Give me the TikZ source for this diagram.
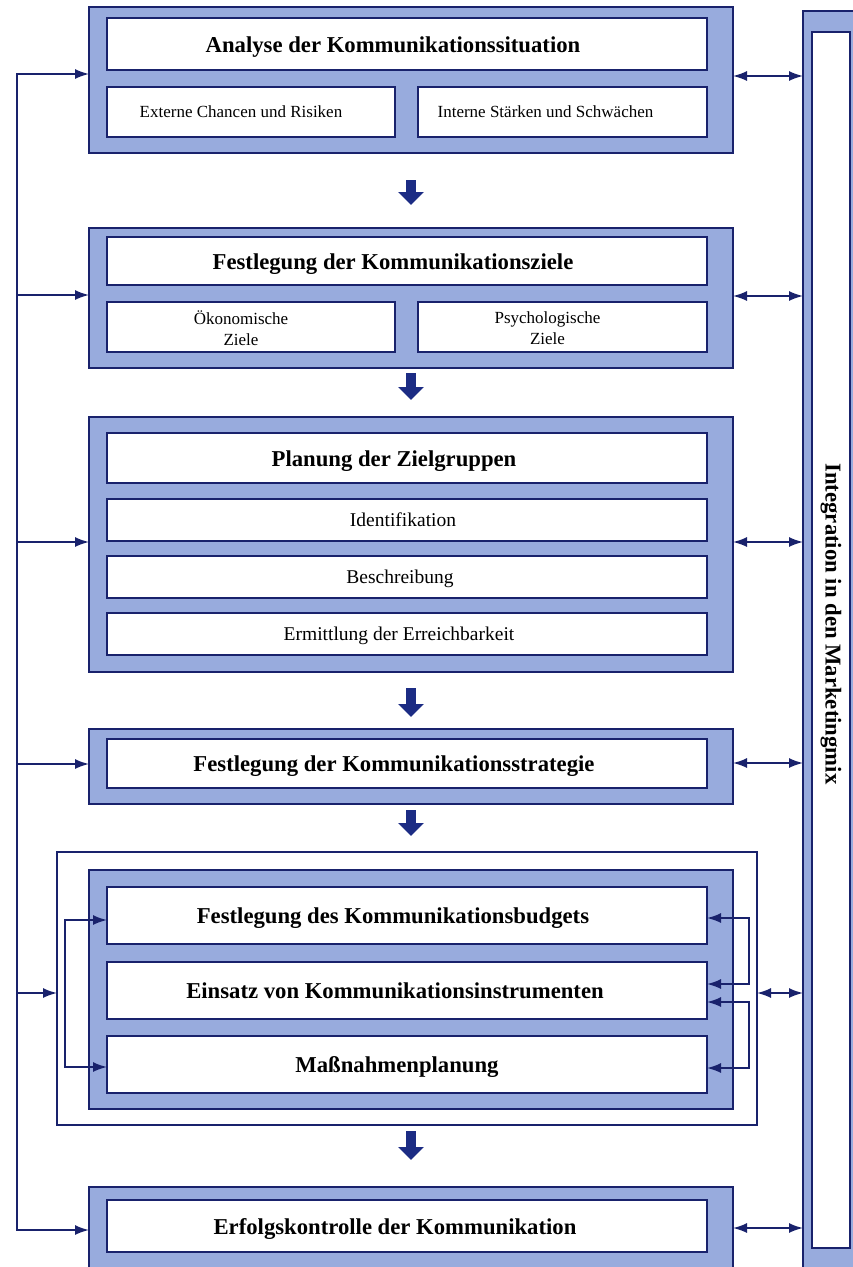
\documentclass[tikz,border=0pt]{standalone}
\usepackage{fontspec}
\setmainfont{Liberation Serif}
\usetikzlibrary{arrows.meta,calc}
\definecolor{frameblue}{RGB}{152,171,221}
\definecolor{navy}{RGB}{25,34,108}
\definecolor{arrowblue}{RGB}{28,44,132}
\begin{document}
\begin{tikzpicture}[x=1pt,y=-1pt,
  frame/.style={draw=navy,line width=1.8pt,fill=frameblue,inner sep=0pt,outer sep=0pt,anchor=north west},
  inbox/.style={draw=navy,line width=2.4pt,fill=white,inner sep=0pt,outer sep=0pt,anchor=north west},
  loopbox/.style={draw=navy,line width=1.7pt,inner sep=0pt,outer sep=0pt,anchor=north west},
  title/.style={font=\fontsize{22.7}{26}\selectfont\bfseries,inner sep=0pt,anchor=base},
  sublabel/.style={font=\fontsize{17}{21}\selectfont,inner sep=0pt,align=center},
  sublabelone/.style={font=\fontsize{17}{21}\selectfont,inner sep=0pt,anchor=base},
  grouplabel/.style={font=\fontsize{19.5}{22}\selectfont,inner sep=0pt,anchor=base},
  fb/.style={draw=navy,line width=1.7pt,-{Latex[length=14pt,width=10pt]}},
  dbl/.style={draw=navy,line width=1.7pt,{Latex[length=14pt,width=10pt]}-{Latex[length=14pt,width=10pt]}},
  down/.style={draw=arrowblue,line width=10pt,-{Triangle[length=13pt,width=25pt]}},
]
\useasboundingbox (0,0) rectangle (853,1267);
\fill[white] (0,0) rectangle (853,1267);
\clip (0,0) rectangle (853,1267);

% Integration column
\node[frame,minimum width=70pt,minimum height=1290pt] (C) at (803,11) {};
\node[inbox,line width=1.8pt,minimum width=38pt,minimum height=1216pt] (Ci) at (812,32) {};
\node[font=\fontsize{22.7}{26}\selectfont\bfseries,inner sep=0pt,rotate=-90] (Ct) at ([yshift=16pt]Ci.center) {Integration in den Marketingmix};

% Box 1
\node[frame,minimum width=644pt,minimum height=146pt] (F1) at (89,7) {};
\node[inbox,minimum width=600pt,minimum height=52pt] (I1) at (107,18) {};
\node[inbox,minimum width=288pt,minimum height=50pt] (I1a) at (107,87) {};
\node[inbox,minimum width=289pt,minimum height=50pt] (I1b) at (418,87) {};
\node[title] (T1) at ([xshift=-14pt,yshift=-8pt]I1.center) {Analyse der Kommunikationssituation};
\node[sublabelone] (T1a) at ([xshift=-10pt,yshift=-5.5pt]I1a.center) {Externe Chancen und Risiken};
\node[sublabelone] (T1b) at ([xshift=-17pt,yshift=-5.5pt]I1b.center) {Interne Stärken und Schwächen};

% Box 2
\node[frame,minimum width=644pt,minimum height=140pt] (F2) at (89,228) {};
\node[inbox,minimum width=600pt,minimum height=48pt] (I2) at (107,237) {};
\node[inbox,minimum width=288pt,minimum height=50pt] (I2a) at (107,302) {};
\node[inbox,minimum width=289pt,minimum height=50pt] (I2b) at (418,302) {};
\node[title] (T2) at ([xshift=-14pt,yshift=-8pt]I2.center) {Festlegung der Kommunikationsziele};
\node[sublabel] (T2a) at ([xshift=-10pt,yshift=-1pt]I2a.center) {Ökonomische\\Ziele};
\node[sublabel] (T2b) at ([xshift=-15pt,yshift=-1pt]I2b.center) {Psychologische\\Ziele};

% Box 3
\node[frame,minimum width=644pt,minimum height=255pt] (F3) at (89,417) {};
\node[inbox,minimum width=600pt,minimum height=50pt] (I3) at (107,433) {};
\node[inbox,minimum width=600pt,minimum height=42pt] (I3a) at (107,499) {};
\node[inbox,minimum width=600pt,minimum height=42pt] (I3b) at (107,556) {};
\node[inbox,minimum width=600pt,minimum height=42pt] (I3c) at (107,613) {};
\node[title] (T3) at ([xshift=-13pt,yshift=-8pt]I3.center) {Planung der Zielgruppen};
\node[grouplabel] (T3a) at ([xshift=-4pt,yshift=-6.5pt]I3a.center) {Identifikation};
\node[grouplabel] (T3b) at ([xshift=-7pt,yshift=-6.5pt]I3b.center) {Beschreibung};
\node[grouplabel] (T3c) at ([xshift=-8pt,yshift=-6.5pt]I3c.center) {Ermittlung der Erreichbarkeit};

% Box 4
\node[frame,minimum width=644pt,minimum height=75pt] (F4) at (89,729) {};
\node[inbox,minimum width=600pt,minimum height=49pt] (I4) at (107,739) {};
\node[title] (T4) at ([xshift=-13pt,yshift=-8pt]I4.center) {Festlegung der Kommunikationsstrategie};

% Loop frame and box 5
\node[loopbox,minimum width=700pt,minimum height=273pt] (Lp) at (57,852) {};
\node[frame,minimum width=644pt,minimum height=239pt] (F5) at (89,870) {};
\node[inbox,minimum width=600pt,minimum height=57pt] (I5a) at (107,887) {};
\node[inbox,minimum width=600pt,minimum height=57pt] (I5b) at (107,962) {};
\node[inbox,minimum width=600pt,minimum height=57pt] (I5c) at (107,1036) {};
\node[title] (T5a) at ([xshift=-14pt,yshift=-8pt]I5a.center) {Festlegung des Kommunikationsbudgets};
\node[title] (T5b) at ([xshift=-12pt,yshift=-8pt]I5b.center) {Einsatz von Kommunikationsinstrumenten};
\node[title] (T5c) at ([xshift=-10pt,yshift=-8pt]I5c.center) {Maßnahmenplanung};

% Box 6
\node[frame,minimum width=644pt,minimum height=100pt] (F6) at (89,1187) {};
\node[inbox,minimum width=600pt,minimum height=52pt] (I6) at (107,1200) {};
\node[title] (T6) at ([xshift=-12pt,yshift=-8pt]I6.center) {Erfolgskontrolle der Kommunikation};

% down arrows
\draw[down,shorten <=27pt,shorten >=23pt] (F1.south) -- (F2.north);
\draw[down,shorten <=5pt,shorten >=17pt] (F2.south) -- (F3.north);
\draw[down,shorten <=16pt,shorten >=12pt] (F3.south) -- (F4.north);
\draw[down,shorten <=6pt,shorten >=16pt] (F4.south) -- (F4.south |- Lp.north);
\draw[down,shorten <=6pt,shorten >=27pt] (F6.north |- Lp.south) -- (F6.north);

% left feedback line
\coordinate (L1) at (17,74);
\coordinate (L2) at (17,295);
\coordinate (L3) at (17,542);
\coordinate (L4) at (17,764);
\coordinate (L5) at (17,993);
\coordinate (L6) at (17,1230);
\draw[fb] (L6) -- (L1) -- (L1 -| F1.west);
\draw[fb] (L1) -- (L6) -- (L6 -| F6.west);
\draw[fb] (L2) -- (L2 -| F2.west);
\draw[fb] (L3) -- (L3 -| F3.west);
\draw[fb] (L4) -- (L4 -| F4.west);
\draw[fb] (L5) -- (L5 -| Lp.west);

% right double arrows to the integration column
\coordinate (R1) at (770,76);
\coordinate (R2) at (770,296);
\coordinate (R3) at (770,542);
\coordinate (R4) at (770,763);
\coordinate (R5) at (780,993);
\coordinate (R6) at (770,1228);
\draw[dbl] (R1 -| F1.east) -- (R1 -| C.west);
\draw[dbl] (R2 -| F2.east) -- (R2 -| C.west);
\draw[dbl] (R3 -| F3.east) -- (R3 -| C.west);
\draw[dbl] (R4 -| F4.east) -- (R4 -| C.west);
\draw[dbl] (R5 -| Lp.east) -- (R5 -| C.west);
\draw[dbl] (R6 -| F6.east) -- (R6 -| C.west);

% brackets inside the budget block
\coordinate (B1) at (65,920);
\coordinate (B2) at (65,1067);
\draw[dbl] (B1 -| I5a.west) -- (B1) -- (B2) -- (B2 -| I5c.west);
\coordinate (Q1) at (749,918);
\coordinate (Q2) at (749,984);
\coordinate (Q3) at (749,1002);
\coordinate (Q4) at (749,1068);
\draw[dbl] (Q1 -| I5a.east) -- (Q1) -- (Q2) -- (Q2 -| I5b.east);
\draw[dbl] (Q3 -| I5b.east) -- (Q3) -- (Q4) -- (Q4 -| I5c.east);
\end{tikzpicture}
\end{document}
